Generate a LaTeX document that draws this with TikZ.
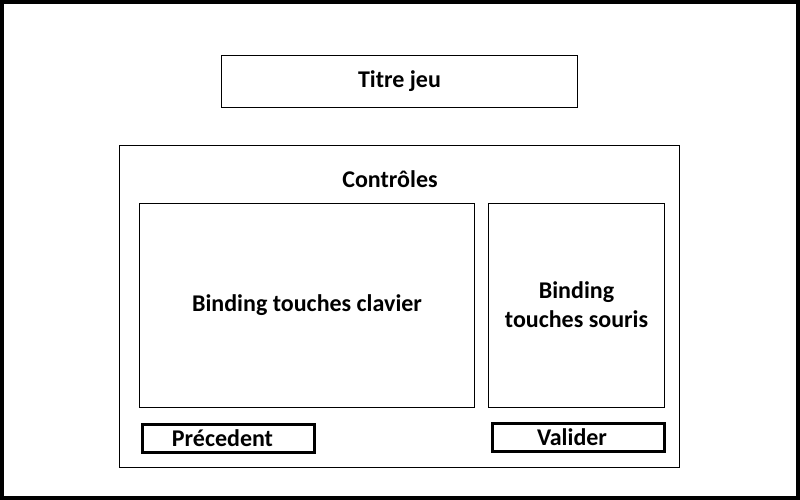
\documentclass[tikz,border=0pt]{standalone}
\usepackage{fontspec}
\setmainfont{Carlito}

\def \thinline {1pt}
\def \thickline {3pt}

\begin{document}
\begin{tikzpicture}[x=1pt, y=-1pt,
  box/.style={draw, rectangle, line width=\thinline, inner sep=0pt, align=center,
    font=\bfseries\fontsize{24}{29}\selectfont},
  button/.style={box, line width=\thickline},
  caption/.style={inner sep=0pt, font=\bfseries\fontsize{24}{29}\selectfont}]
\useasboundingbox (0,0) rectangle (800,500);
\draw[line width=4pt] (2,2) rectangle (798,498); % frame

\node[box, minimum width=356pt, minimum height=52pt] (titre) at (399.5,81.5) {Titre jeu};

% controls panel
\node[box, minimum width=560pt, minimum height=322pt] (controles) at (399.5,306) {};
\node[caption] (controles titre) at (390,179) {Contrôles};
\node[box, minimum width=335pt, minimum height=204pt] (clavier) at (307,305) {Binding touches clavier};
\node[box, minimum width=176pt, minimum height=204pt] (souris) at (576.5,305) {Binding\\touches souris};

% buttons, text sits a bit left of centre
\node[button, minimum width=172pt, minimum height=28pt] (precedent) at (228.5,438.5) {};
\node[caption] (precedent texte) at ([xshift=-6pt]precedent.center) {Précedent};
\node[button, minimum width=172pt, minimum height=28pt] (valider) at (578,437.5) {};
\node[caption] (valider texte) at ([xshift=-6pt]valider.center) {Valider};
\end{tikzpicture}
\end{document}
